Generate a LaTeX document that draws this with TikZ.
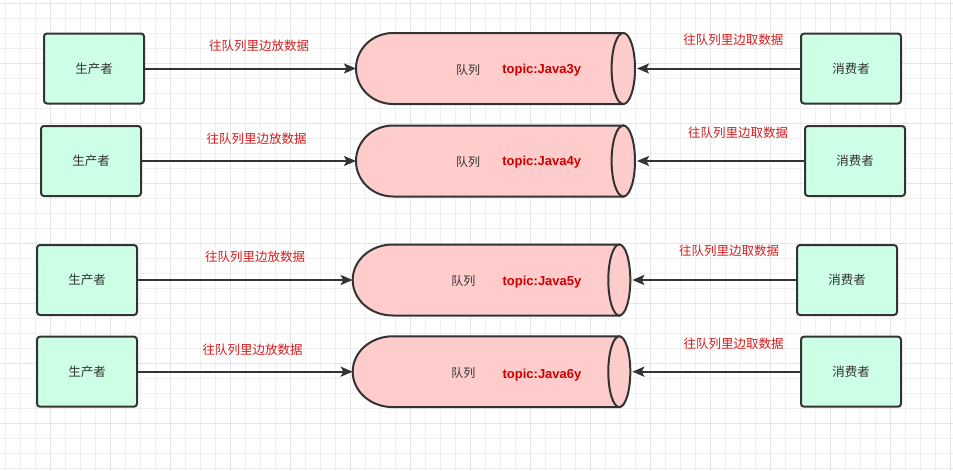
\documentclass[tikz,border=0pt]{standalone}
\usepackage{fontspec}
\newfontfamily\cjk{Noto Sans CJK SC}
\newfontfamily\lsans{Liberation Sans}
\usetikzlibrary{arrows.meta}
\definecolor{boxfill}{HTML}{CCFFE6}
\definecolor{qfill}{HTML}{FFCCCC}
\definecolor{linec}{HTML}{333333}
\definecolor{txt}{HTML}{333333}
\definecolor{labred}{RGB}{215,30,30}
\definecolor{topicred}{RGB}{204,0,0}
\definecolor{gridminor}{RGB}{240,240,240}
\definecolor{gridmajor}{RGB}{228,228,228}
\begin{document}
\begin{tikzpicture}[x=1pt,y=-1pt,
  pbox/.style={draw=linec, fill=boxfill, rounded corners=3, line width=2,
    minimum width=100, minimum height=70, inner sep=0,
    font=\cjk\fontsize{12.5}{15}\selectfont, text=txt},
  qstyle/.style={draw=linec, fill=qfill, line width=2},
  qtext/.style={font=\cjk\fontsize{12}{14}\selectfont, text=txt, inner sep=0},
  ttext/.style={font=\lsans\bfseries\fontsize{13}{15}\selectfont, text=topicred, inner sep=0},
  lab/.style={font=\cjk\fontsize{12.5}{15}\selectfont, text=labred, inner sep=0},
  arr/.style={draw=linec, line width=2, -{Stealth[length=12pt, width=10pt, inset=2.5pt]}}
]
\useasboundingbox (0,0) rectangle (953,471);
\fill[white] (0,0) rectangle (953,471);
% grid
\foreach \i in {0,...,63} \draw[gridminor, line width=0.8] (5.7+15*\i,0) -- (5.7+15*\i,471);
\foreach \i in {0,...,31} \draw[gridminor, line width=0.8] (0,3.3+15*\i) -- (953,3.3+15*\i);
\foreach \i in {0,...,15} \draw[gridmajor, line width=0.8] (50.7+60*\i,0) -- (50.7+60*\i,471);
\foreach \i in {0,...,7} \draw[gridmajor, line width=0.8] (0,3.3+60*\i) -- (953,3.3+60*\i);

% queues
\foreach \n/\L/\R/\T/\B/\a/\e in {1/356/623.3/33/104/37/11.7, 2/356/623.3/125.5/196.5/37/11.7, 3/352.7/619.3/244.5/315.5/40/11, 4/352.7/619.3/336.3/407.1/40/11}{
  \pgfmathsetmacro\ry{(\B-\T)/2}
  \pgfmathsetmacro\m{(\T+\B)/2}
  \filldraw[qstyle] (\L+\a,\B) arc[start angle=90, end angle=270, x radius=\a, y radius=\ry] -- (\R,\T) -- (\R,\B) -- cycle;
  \filldraw[qstyle] (\R,\m) ellipse[x radius=\e, y radius=\ry];
  \coordinate (q\n w) at (\L,\m);
  \coordinate (q\n e) at (\R+\e+2,\m);
}

% queue texts
\node[qtext] (qa1) at (468,70) {队列};
\node[ttext] (qb1) at (541.7,70.5) {topic:Java3y};
\node[qtext] (qa2) at (468,161.7) {队列};
\node[ttext] (qb2) at (541.7,162.2) {topic:Java4y};
\node[qtext] (qa3) at (463.3,280.7) {队列};
\node[ttext] (qb3) at (542,281.7) {topic:Java5y};
\node[qtext] (qa4) at (463.3,373.3) {队列};
\node[ttext] (qb4) at (542,375.2) {topic:Java6y};

% producers
\node[pbox] (p1) at (94,68.5) {生产者};
\node[pbox] (p2) at (91,161) {生产者};
\node[pbox] (p3) at (87,280) {生产者};
\node[pbox] (p4) at (87,371.7) {生产者};

% consumers
\node[pbox] (c1) at (851,68.5) {消费者};
\node[pbox] (c2) at (855,161) {消费者};
\node[pbox] (c3) at (847,280) {消费者};
\node[pbox] (c4) at (851,371.7) {消费者};

% arrows
\foreach \n in {1,2,3,4}{
  \draw[arr] (p\n.east) -- (q\n w);
  \draw[arr] (c\n.west) -- (q\n e);
}

% labels
\node[lab] (lp1) at (259,46) {往队列里边放数据};
\node[lab] (lp2) at (256.7,138.3) {往队列里边放数据};
\node[lab] (lp3) at (255,257) {往队列里边放数据};
\node[lab] (lp4) at (252.5,349.3) {往队列里边放数据};
\node[lab] (lc1) at (733.3,40) {往队列里边取数据};
\node[lab] (lc2) at (738,132.3) {往队列里边取数据};
\node[lab] (lc3) at (729,250.7) {往队列里边取数据};
\node[lab] (lc4) at (733.7,343.3) {往队列里边取数据};
\end{tikzpicture}
\end{document}
